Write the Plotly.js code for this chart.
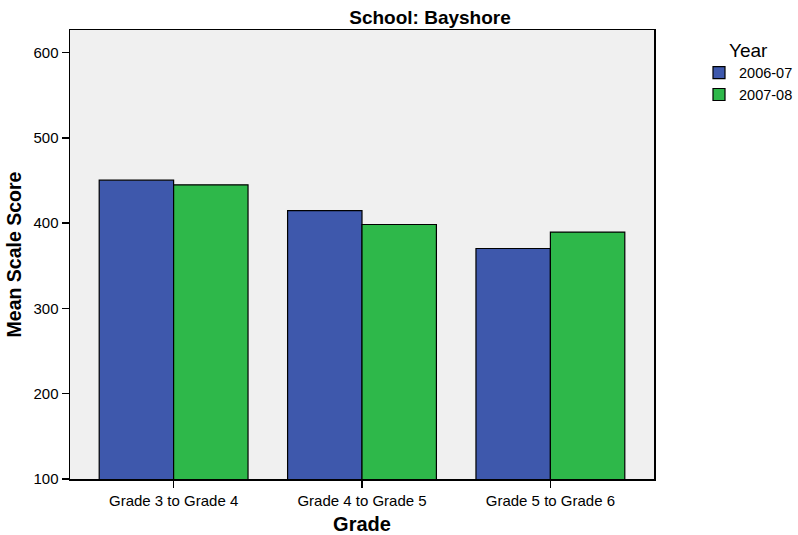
<!DOCTYPE html>
<html>
<head>
<meta charset="utf-8">
<script src="https://cdn.plot.ly/plotly-3.0.1.min.js"></script>
<style>html,body{margin:0;padding:0;background:#fff;}#chart{width:798px;height:535px;}</style>
</head>
<body>
<div id="chart"></div>
<script>
const grades = ["Grade 3 to Grade 4", "Grade 4 to Grade 5", "Grade 5 to Grade 6"];
const years = ["2006-07", "2007-08"];
const scores0607 = [450.4, 414.8, 370.3];
const scores0708 = [444.9, 398.4, 389.5];
const yTicks = [100, 200, 300, 400, 500, 600];

const colors = ["#3E58AC", "#2EB84A"];
const series = [scores0607, scores0708];
const traces = series.map((vals, i) => ({
  type: "bar",
  name: years[i],
  x: grades,
  y: vals,
  base: 0,
  marker: {color: colors[i], line: {color: "#000", width: 1.2}},
  hoverinfo: "x+y+name"
}));

const layout = {
  width: 798, height: 535,
  margin: {l: 70, r: 144, t: 30, b: 56},
  paper_bgcolor: "#ffffff",
  plot_bgcolor: "#F0F0F0",
  font: {family: "Liberation Sans, Arial, sans-serif", color: "#000", size: 14},
  title: {text: "<b>School: Bayshore</b>", font: {size: 19, family: "Liberation Sans, Arial, sans-serif"},
          x: 430/798, xanchor: "center", y: 1 - 17/535, yanchor: "middle"},
  barmode: "group",
  bargap: 0.21,
  bargroupgap: 0,
  xaxis: {
    range: [-0.55, 2.55],
    showline: true, linecolor: "#000", linewidth: 1.5, mirror: true,
    ticks: "outside", ticklen: 7, tickcolor: "#000", tickwidth: 1.5,
    showgrid: false, zeroline: false,
    tickfont: {size: 15},
    title: {text: "<b>Grade</b>", font: {size: 20}, standoff: 10}
  },
  yaxis: {
    range: [100, 626.5],
    tickvals: yTicks,
    showline: true, linecolor: "#000", linewidth: 1.5, mirror: true,
    ticks: "outside", ticklen: 7, tickcolor: "#000", tickwidth: 1.5,
    showgrid: false, zeroline: false,
    tickfont: {size: 15},
    title: {text: "<b>Mean Scale Score</b>", font: {size: 19.5}, standoff: 6}
  },
  showlegend: true,
  legend: {
    xref: "container", yref: "container",
    x: 699/798, xanchor: "left", y: 1 - 32/535, yanchor: "top",
    title: {text: "Year", side: "top center", font: {size: 19}},
    font: {size: 14.5},
    itemwidth: 30,
    tracegroupgap: 0,
    bgcolor: "rgba(0,0,0,0)"
  }
};

Plotly.newPlot("chart", traces, layout, {displayModeBar: false, staticPlot: true});
</script>
</body>
</html>
